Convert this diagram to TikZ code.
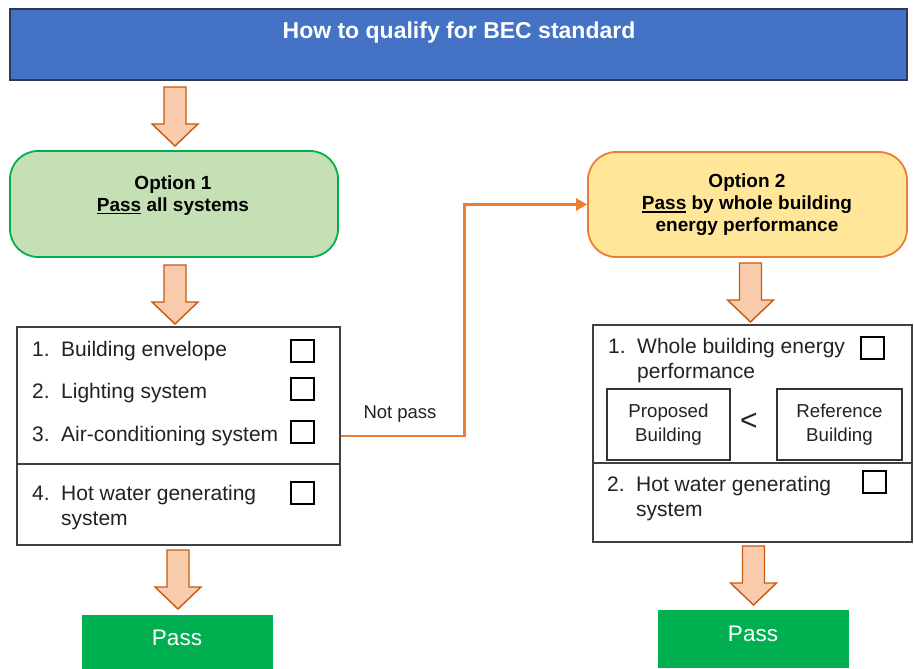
\documentclass[tikz,border=0pt]{standalone}
\usepackage{fontspec}
\setmainfont{Liberation Sans}
\usetikzlibrary{arrows.meta}

\definecolor{headblue}{HTML}{4472C4}
\definecolor{headedge}{HTML}{2E3A55}
\definecolor{optonefill}{HTML}{C5E0B4}
\definecolor{optoneedge}{HTML}{00B050}
\definecolor{opttwofill}{HTML}{FFE699}
\definecolor{opttwoedge}{HTML}{ED7D31}
\definecolor{arrowfill}{HTML}{F8CBAD}
\definecolor{arrowedge}{HTML}{C55A11}
\definecolor{passgreen}{HTML}{00B050}
\definecolor{linkorange}{HTML}{ED7D31}
\definecolor{textgray}{HTML}{222222}

\newcommand{\fs}[2]{\fontsize{#1bp}{#2bp}\selectfont}
\newcommand{\itemno}[1]{\makebox[29bp][l]{#1}}
% word with a heavier underline
\newcommand{\ulword}[1]{\setbox0\hbox{#1}\rlap{\rule[-3.2bp]{\wd0}{1.7bp}}\box0\relax}

\begin{document}
\begin{tikzpicture}[x=1bp,y=-1bp,
  titlebox/.style={draw=headedge, line width=1.4bp, fill=headblue,
    minimum width=897bp, minimum height=71bp, inner sep=0},
  titletext/.style={text=white, font=\fs{23}{27}\bfseries, anchor=base},
  optbox/.style={line width=1.8bp, rounded corners=28bp, inner sep=0},
  opttext/.style={font=\fs{19}{21.7}\bfseries, align=center, anchor=base},
  listbox/.style={draw=black!75, line width=1.2bp, fill=white, inner sep=0},
  listtext/.style={text=textgray, font=\fs{21}{25}, align=left, anchor=base west, inner sep=0},
  cmpbox/.style={draw=black!80, line width=1.1bp, minimum width=#1, minimum height=71bp,
    font=\fs{18.7}{23.5}, text=textgray, align=center, inner sep=0},
  tick/.style={draw=black, line width=2bp, minimum width=23bp, minimum height=22bp, inner sep=0},
  passbox/.style={fill=passgreen, minimum width=191bp, inner sep=0},
  passtext/.style={text=white, font=\fs{22.5}{26}, anchor=base},
  arrowbody/.style={draw=arrowedge, fill=arrowfill, line width=1.4bp, line join=miter},
  blockarrow/.pic={
    \draw[arrowbody] (-11,0) -- (11,0) -- (11,37) -- (23,37) -- (0,59)
      -- (-23,37) -- (-11,37) -- cycle;
  },
  link/.style={draw=linkorange, line width=2.8bp,
    -{Triangle[length=11bp,width=12bp]}}
]
\useasboundingbox (0,0) rectangle (914,669);

% heading
\node[titlebox] (title) at (458.5,44.5) {};
\node[titletext] (titletxt) at (459,39) {How to qualify for BEC standard};

% option 1
\pic at (175,87) {blockarrow};
\node[optbox, draw=optoneedge, fill=optonefill,
  minimum width=328bp, minimum height=106bp] (opt1) at (174,204) {};
\node[opttext] (opt1txt) at (173,211) {Option 1\\\ulword{Pass} all systems};

\pic at (175,265) {blockarrow};

% option 1 checklist
\node[listbox, minimum width=323bp, minimum height=218bp] (list1) at (178.5,436) {};
\draw[black!75, line width=1.2bp] (list1.west |- 0,464) -- (list1.east |- 0,464);
\node[listtext] (l1a) at (32,356) {\itemno{1.}Building envelope};
\node[listtext] (l1b) at (32,398) {\itemno{2.}Lighting system};
\node[listtext] (l1c) at (32,441) {\itemno{3.}Air-conditioning system};
\node[listtext] (l1d) at (32,525) {\itemno{4.}Hot water generating\\\hspace*{29bp}system};
\node[tick] (c1a) at (302.5,350.5) {};
\node[tick] (c1b) at (302.5,389) {};
\node[tick] (c1c) at (302.5,431.5) {};
\node[tick] (c1d) at (302.5,493) {};

\pic at (178,550) {blockarrow};
\node[passbox, minimum height=56bp] (pass1) at (177.5,643) {};
\node[passtext] (pass1txt) at (177,645) {Pass};

% option 2
\node[optbox, draw=opttwoedge, fill=opttwofill,
  minimum width=319bp, minimum height=105bp] (opt2) at (747.5,204.5) {};
\node[opttext] (opt2txt) at (747,231) {Option 2\\\ulword{Pass} by whole building\\energy performance};

% fallback route from option 1 to option 2
\draw[link] (list1.east) -- ++(124,0) |- (opt2.west);
\node[font=\fs{18.5}{22}, text=textgray, anchor=base] (notpass) at (400,418) {Not pass};

\pic at (750.5,263) {blockarrow};

% option 2 checklist
\node[listbox, minimum width=319bp, minimum height=217bp] (list2) at (752.5,433.5) {};
\draw[black!75, line width=1.2bp] (list2.west |- 0,463) -- (list2.east |- 0,463);
\node[listtext] (l2a) at (608,378) {\itemno{1.}Whole building energy\\\hspace*{29bp}performance};
\node[tick] (c2a) at (872.5,348) {};
\node[cmpbox=123bp] (proposed) at (668.5,424.5) {Proposed\\Building};
\node[font=\fs{30}{30}, text=textgray] (lessthan) at (749,422) {<};
\node[cmpbox=125bp] (reference) at (839.5,424.5) {Reference\\Building};
\node[listtext] (l2b) at (607,516) {\itemno{2.}Hot water generating\\\hspace*{29bp}system};
\node[tick] (c2b) at (874,482) {};

\pic at (753.5,546) {blockarrow};
\node[passbox, minimum height=58bp] (pass2) at (753.5,639) {};
\node[passtext] (pass2txt) at (753,641) {Pass};
\end{tikzpicture}
\end{document}
